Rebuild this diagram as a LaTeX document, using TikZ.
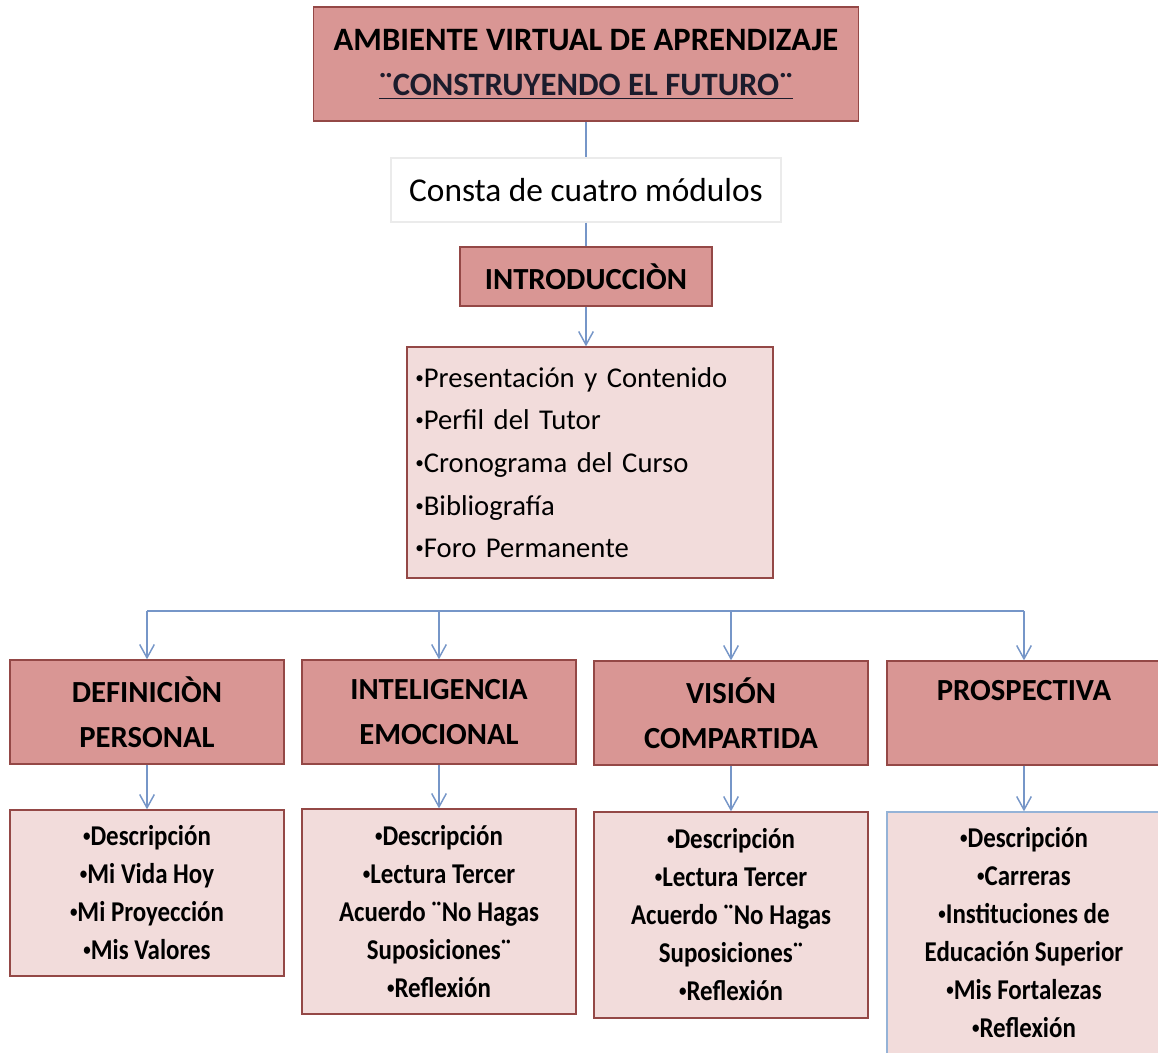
\documentclass[tikz,border=0pt]{standalone}
\usepackage{fontspec}
\usepackage{graphicx}
\setmainfont{Carlito}
\newfontfamily\narrowfont[FakeStretch=0.87]{Carlito}
\usetikzlibrary{arrows.meta}
\definecolor{rosedark}{RGB}{217,150,148}
\definecolor{roselight}{RGB}{242,220,219}
\definecolor{roseborder}{RGB}{148,72,70}
\definecolor{linkblue}{RGB}{118,150,200}
\definecolor{paleblue}{RGB}{149,179,215}
\definecolor{titleink}{RGB}{28,28,44}
\newcommand{\bul}{\raisebox{0.14em}{\scalebox{0.6}{•}}}

\begin{document}
\begin{tikzpicture}[x=0.75pt, y=-0.75pt]
        \tikzstyle{every node}=[rectangle, draw=roseborder, line width=1pt, align=center, text=black, inner sep=0pt]
        \tikzstyle{head}=[fill=rosedark, font=\bfseries\fontsize{23}{34}\selectfont, minimum width=205.5pt, minimum height=78pt]
        \tikzstyle{list}=[fill=roselight, font=\narrowfont\bfseries\fontsize{21.5}{28.5}\selectfont, minimum width=205.5pt]
        \tikzstyle{edge}=[linkblue, line width=1.1pt]
        \tikzstyle{arrow}=[edge, -{Straight Barb[length=10pt, width=11pt]}]

        \useasboundingbox (0,0) rectangle (1158,1053);

        \node[fill=rosedark, font=\bfseries\fontsize{24.5}{34}\selectfont, minimum width=408.75pt, minimum height=85.5pt] (amb) at (586,64) {AMBIENTE VIRTUAL DE APRENDIZAJE\\\textcolor{titleink}{\underline{¨CONSTRUYENDO EL FUTURO¨}}};
        \node[draw=black!8, fill=white, font=\fontsize{25}{30}\selectfont, minimum width=292.5pt, minimum height=48pt] (mod) at (586,190) {Consta de cuatro módulos};
        \node[head, minimum width=189pt, minimum height=44.25pt] (intro) at (586,276.5) {INTRODUCCIÒN};
        \node[fill=roselight, font=\fontsize{21.5}{32}\selectfont, align=left, text width=262pt, minimum width=274.5pt, minimum height=173.25pt] (intro') at (590,462.5) {\bul Presentación y Contenido\\\bul Perfil del Tutor\\\bul Cronograma del Curso\\\bul Bibliografía\\\bul Foro Permanente};

        \node[head] (def) at (147,712)  {DEFINICIÒN\\PERSONAL};
        \node[head] (int) at (439,712)  {INTELIGENCIA\\EMOCIONAL};
        \node[head] (vis) at (731,713)  {VISIÓN\\COMPARTIDA};
        \node[head] (pro) at (1024,713) {PROSPECTIVA\\\mbox{}};

        \node[list, minimum height=124.5pt] (def') at (147,893)   {\bul Descripción\\\bul Mi Vida Hoy\\\bul Mi Proyección\\\bul Mis Valores};
        \node[list, minimum height=153.75pt] (int') at (439,911.5) {\bul Descripción\\\bul Lectura Tercer\\Acuerdo ¨No Hagas\\Suposiciones¨\\\bul Reflexión};
        \node[list, minimum height=154.5pt] (vis') at (731,915)   {\bul Descripción\\\bul Lectura Tercer\\Acuerdo ¨No Hagas\\Suposiciones¨\\\bul Reflexión};
        \node[list, draw=paleblue, minimum height=181.5pt] (pro') at (1024,933) {\bul Descripción\\\bul Carreras\\\bul Instituciones de\\Educación Superior\\\bul Mis Fortalezas\\\bul Reflexión};

        \coordinate (bus) at (147,611);
        \coordinate (bus') at (1024,611);

        \draw[edge] (amb) -- (mod) -- (intro);
        \draw[arrow] (intro) -- (intro.south |- intro'.north);
        \draw[edge] (bus) -- (bus');

        \draw[arrow] (bus) -- (def);
        \draw[arrow] (int |- bus) -- (int);
        \draw[arrow] (vis |- bus) -- (vis);
        \draw[arrow] (bus') -- (pro);

        \draw[arrow] (def) -- (def');
        \draw[arrow] (int) -- (int');
        \draw[arrow] (vis) -- (vis');
        \draw[arrow] (pro) -- (pro');
    \end{tikzpicture}
\end{document}
